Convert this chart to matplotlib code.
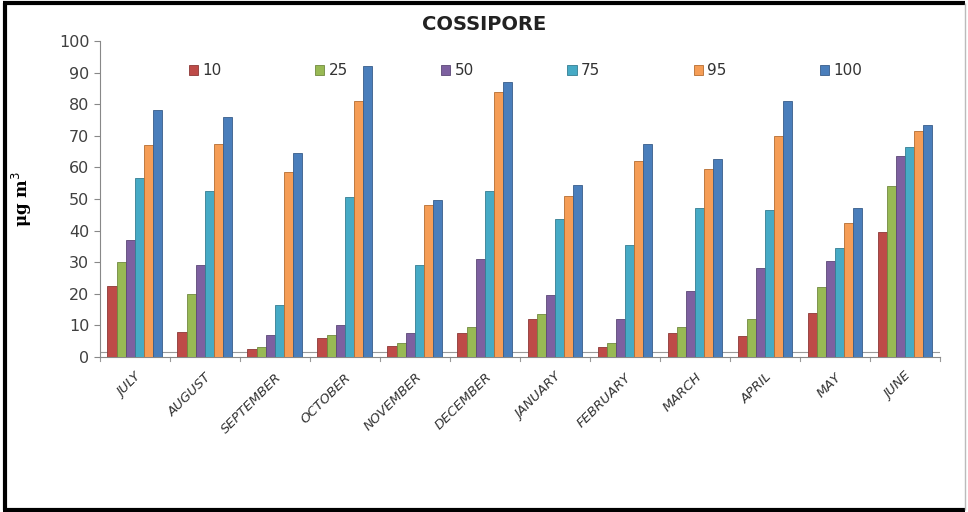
import matplotlib.pyplot as plt
import numpy as np
from matplotlib.lines import Line2D

months = ["JULY", "AUGUST", "SEPTEMBER", "OCTOBER", "NOVEMBER", "DECEMBER",
          "JANUARY", "FEBRUARY", "MARCH", "APRIL", "MAY", "JUNE"]
series_names = ["10", "25", "50", "75", "95", "100"]

p10 = [22.5, 8, 2.5, 6, 3.5, 7.5, 12, 3, 7.5, 6.5, 14, 39.5]
p25 = [30, 20, 3, 7, 4.5, 9.5, 13.5, 4.5, 9.5, 12, 22, 54]
p50 = [37, 29, 7, 10, 7.5, 31, 19.5, 12, 21, 28, 30.5, 63.5]
p75 = [56.5, 52.5, 16.5, 50.5, 29, 52.5, 43.5, 35.5, 47, 46.5, 34.5, 66.5]
p95 = [67, 67.5, 58.5, 81, 48, 84, 51, 62, 59.5, 70, 42.5, 71.5]
p100 = [78, 76, 64.5, 92, 49.5, 87, 54.5, 67.5, 62.5, 81, 47, 73.5]

series = [p10, p25, p50, p75, p95, p100]
colors = ["#BE4B48", "#98B954", "#7D60A0", "#46AAC5", "#F59D56", "#4A7EBB"]
edges = ["#8C3836", "#71893F", "#5C4776", "#357D91", "#B66D31", "#385D8A"]

fig = plt.figure(figsize=(9.68, 5.12), dpi=100)
ax = fig.add_axes([0.103, 0.303, 0.868, 0.617])

x = np.arange(len(months))
bw = 0.13
for i, (vals, c, ec, name) in enumerate(zip(series, colors, edges, series_names)):
    offs = (i - 2.5) * bw
    ax.bar(x + offs, vals, width=bw, color=c, edgecolor=ec, linewidth=0.6,
           label=name, zorder=3)

ax.set_xlim(-0.5, len(months) - 0.5)
ax.set_ylim(0, 100)
ax.set_yticks(range(0, 101, 10))
ax.tick_params(axis="y", labelsize=11.5, color="#888888", labelcolor="#404040",
               length=4, width=0.8, direction="out")
ax.set_xticks(x)
ax.set_xticklabels(months, rotation=45, ha="right", rotation_mode="anchor",
                   fontsize=9.5, style="italic", color="#333333")
ax.tick_params(axis="x", length=0, pad=10)

for side in ["top", "right"]:
    ax.spines[side].set_visible(False)
ax.spines["left"].set_color("#888888")
ax.spines["bottom"].set_color("#888888")
# category boundary ticks and the floor edge
for b in np.arange(-0.5, len(months) + 0.5, 1):
    ax.plot([b, b], [0, -1.2], color="#999999", lw=0.8, clip_on=False)
ax.plot([-0.5, len(months) - 0.5], [1.5, 1.5], color="#999999", lw=0.8,
        zorder=2)

ax.set_ylabel("μg m$^{3}$", fontsize=12, fontweight="bold", family="DejaVu Serif",
              labelpad=18)

ax.set_title("COSSIPORE", fontsize=14, fontweight="bold", color="#222222",
             pad=8)
ax.title.set_position((0.458, 1.0))

leg = ax.legend(loc="upper left", bbox_to_anchor=(0.106, 0.93), ncol=6,
                frameon=False, fontsize=11, handlelength=0.6, handleheight=0.6,
                columnspacing=6.1, handletextpad=0.3, borderpad=0,
                borderaxespad=0)
for t in leg.get_texts():
    t.set_color("#333333")

# outer frame: heavy black on three sides, light rule on the right
frame = dict(transform=fig.transFigure, solid_capstyle="butt")
fig.add_artist(Line2D([0.005, 0.005], [0.003, 0.995], color="black", lw=3, **frame))
fig.add_artist(Line2D([0.003, 0.997], [0.994, 0.994], color="black", lw=3, **frame))
fig.add_artist(Line2D([0.003, 0.997], [0.004, 0.004], color="black", lw=3, **frame))
fig.add_artist(Line2D([0.997, 0.997], [0.003, 0.995], color="#BBBBBB", lw=1, **frame))
fig.savefig("out.png", dpi=100)
